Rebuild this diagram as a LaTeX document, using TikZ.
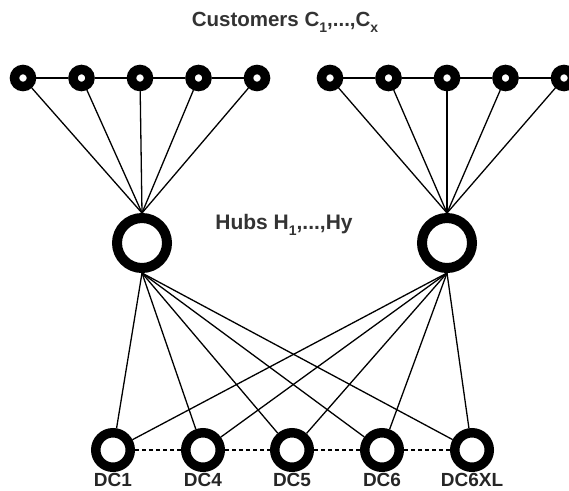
\documentclass[tikz,border=0pt]{standalone}
\usepackage{fontspec}
\setmainfont{Liberation Sans}
\newcommand{\lowsub}[1]{\raisebox{-0.3em}{\fontsize{14}{14}\selectfont\bfseries #1}}
\begin{document}
\begin{tikzpicture}[x=1pt,y=-1pt,
  cust/.style={circle, draw=black, fill=white, line width=9.5pt, inner sep=0pt, minimum size=17pt},
  hub/.style={circle, draw=black, fill=white, line width=10pt, inner sep=0pt, minimum size=50pt},
  dc/.style={circle, draw=black, fill=white, line width=9.5pt, inner sep=0pt, minimum size=34.5pt},
  link/.style={line width=1.3pt, black},
  peer/.style={line width=1.1pt, black, dash pattern=on 4pt off 3pt},
  title/.style={text=black!80, inner sep=0pt, font=\fontsize{20.5}{24}\selectfont\bfseries},
  dclabel/.style={text=black!85, inner sep=0pt, anchor=north, font=\fontsize{19}{21}\selectfont\bfseries}]
\useasboundingbox (0,0) rectangle (569,490);

% hubs
\node[hub] (hL) at (142,243) {};
\node[hub] (hR) at (447,243) {};

% distribution centres
\foreach \n/\x in {dc1/113, dc4/203, dc5/292, dc6/382, dc6xl/472}
  \node[dc] (\n) at (\x,450) {};

% customers, left and right groups
\foreach \i/\x in {1/23, 2/81.5, 3/140, 4/198.5, 5/257}
  \node[cust] (cl\i) at (\x,78) {};
\foreach \i/\x in {1/330, 2/388.5, 3/447, 4/505.5, 5/564}
  \node[cust] (cr\i) at (\x,78) {};

% customer chains
\draw[link] (cl1) -- (cl2) -- (cl3) -- (cl4) -- (cl5);
\draw[link] (cr1) -- (cr2) -- (cr3) -- (cr4) -- (cr5);

% customers to their hub
\foreach \i in {1,...,5} {
  \draw[link] (cl\i) -- (hL.north);
  \draw[link] (cr\i) -- (hR.north);
}

% hubs to distribution centres
\foreach \n in {dc1,dc4,dc5,dc6,dc6xl} {
  \draw[link] (hL.south) -- (\n);
  \draw[link] (hR.south) -- (\n);
}

% links between neighbouring distribution centres
\draw[peer] (dc1) -- (dc4);
\draw[peer] (dc4) -- (dc5);
\draw[peer] (dc5) -- (dc6);
\draw[peer] (dc6) -- (dc6xl);

% labels
\node[title] (tc) at (285,22) {Customers C\lowsub{1},...,C\lowsub{x}};
\node[title, font=\fontsize{21}{24}\selectfont\bfseries] (th) at (284,225) {Hubs H\lowsub{1},...,Hy};
\node[dclabel] (l1) at (113,473) {DC1};
\node[dclabel] (l4) at (203,473) {DC4};
\node[dclabel] (l5) at (292,473) {DC5};
\node[dclabel] (l6) at (382,473) {DC6};
\node[dclabel] (l6xl) at (472,473) {DC6XL};
\end{tikzpicture}
\end{document}
